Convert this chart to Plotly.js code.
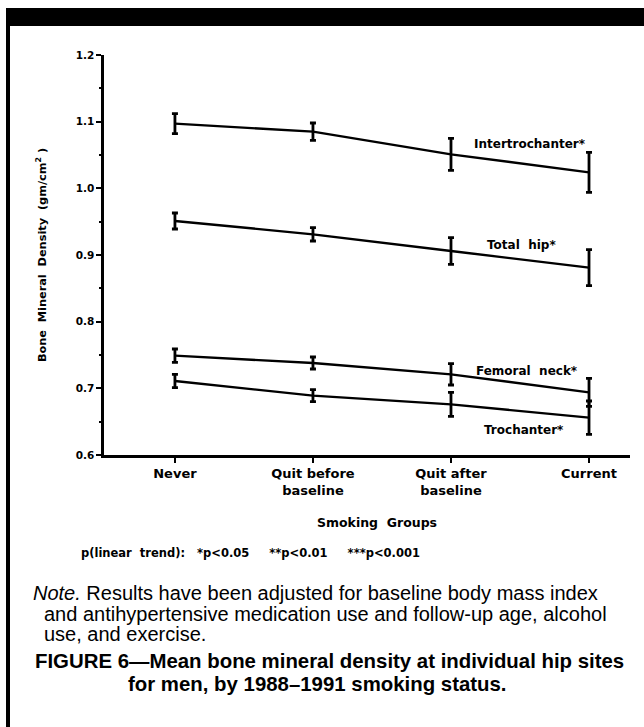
<!DOCTYPE html>
<html>
<head>
<meta charset="utf-8">
<script src="https://cdn.plot.ly/plotly-3.0.1.min.js"></script>
<style>
html,body{margin:0;padding:0;background:#fff;}
#chart{width:644px;height:727px;}
</style>
</head>
<body>
<div id="chart"></div>
<script>
// ---- data ----
var groups = ["Never", "Quit before<br>baseline", "Quit after<br>baseline", "Current"];
var intertrochanter = [1.097, 1.085, 1.051, 1.024];
var intertrochanterErr = [0.015, 0.013, 0.024, 0.030];
var totalHip = [0.951, 0.931, 0.906, 0.881];
var totalHipErr = [0.012, 0.010, 0.020, 0.027];
var femoralNeck = [0.749, 0.738, 0.721, 0.694];
var femoralNeckErr = [0.010, 0.009, 0.016, 0.021];
var trochanter = [0.711, 0.689, 0.676, 0.656];
var trochanterErr = [0.010, 0.009, 0.018, 0.025];
var seriesNames = ["Intertrochanter*", "Total  hip*", "Femoral  neck*", "Trochanter*"];
var yTicks = [0.6, 0.7, 0.8, 0.9, 1.0, 1.1, 1.2];

// ---- layout geometry (pixels) ----
var W = 644, H = 727;
var L = 104, R = 630, T = 55, B = 455;
function px(x){ return (x - L) / (R - L); }
function py(y){ return (B - y) / (B - T); }

var boldFont = {family: "DejaVu Sans, Liberation Sans, Arial, sans-serif", size: 12, color: "#000", weight: 700};
function bf(size){ return Object.assign({}, boldFont, {size: size}); }

function trace(vals, errs, name){
  return {
    type: "scatter", mode: "lines", name: name,
    x: [0,1,2,3], y: vals,
    line: {color: "#000", width: 2.4},
    error_y: {type: "data", array: errs, visible: true, color: "#000", thickness: 2.8, width: 3},
    hoverinfo: "y"
  };
}
var data = [
  trace(intertrochanter, intertrochanterErr, seriesNames[0]),
  trace(totalHip, totalHipErr, seriesNames[1]),
  trace(femoralNeck, femoralNeckErr, seriesNames[2]),
  trace(trochanter, trochanterErr, seriesNames[3])
];

var labelPos = [[2.575, 1.066], [2.51, 0.9155], [2.55, 0.7255], [2.53, 0.637]];
var annotations = seriesNames.map(function(n, i){
  return {text: n, x: labelPos[i][0], y: labelPos[i][1], xref: "x", yref: "y",
          showarrow: false, font: bf(12), xanchor: "center", yanchor: "middle"};
});

var noteFont = {family: "Liberation Sans, Arial, sans-serif", size: 20, color: "#000", weight: 400};
var capFont = {family: "Liberation Sans, Arial, sans-serif", size: 20.4, color: "#000", weight: 700};
function textAt(t, x, y, font, anchor){
  return {text: t, xref: "paper", yref: "paper", x: px(x), y: py(y), showarrow: false,
          xanchor: anchor || "left", yanchor: "middle", font: font};
}
annotations.push(textAt("Smoking  Groups", 377, 522, bf(12.5), "center"));
annotations.push(textAt("p(linear  trend):   *p<0.05     **p<0.01     ***p<0.001", 79, 553, bf(11.5), "left"));
annotations.push(textAt("<i>Note.</i> Results have been adjusted for baseline body mass index", 31, 593, noteFont, "left"));
annotations.push(textAt("and antihypertensive medication use and follow-up age, alcohol", 42, 613.5, noteFont, "left"));
annotations.push(textAt("use, and exercise.", 42, 634, noteFont, "left"));
annotations.push(textAt("FIGURE 6—Mean bone mineral density at individual hip sites", 329, 661, capFont, "center"));
annotations.push(textAt("for men, by 1988–1991 smoking status.", 317, 684, capFont, "center"));

var shapes = [
  {type: "rect", xref: "paper", yref: "paper", x0: px(6), x1: px(650), y0: py(26), y1: py(8),
   fillcolor: "#000", line: {width: 0}, layer: "above"},
  {type: "line", xref: "paper", yref: "paper", x0: px(8), x1: px(8), y0: py(8), y1: py(730),
   line: {color: "#000", width: 4}}
];

var layout = {
  width: W, height: H,
  margin: {l: L, r: W - R, t: T, b: H - B, pad: 0},
  paper_bgcolor: "#fff", plot_bgcolor: "#fff",
  showlegend: false,
  font: boldFont,
  xaxis: {
    type: "linear", range: [-0.514, 3.297],
    tickvals: [0,1,2,3], ticktext: groups,
    showgrid: false, zeroline: false,
    showline: true, linecolor: "#000", linewidth: 2.6,
    ticks: "outside", ticklen: 5, tickwidth: 2, tickcolor: "#000",
    tickfont: bf(13),
    automargin: false
  },
  yaxis: {
    range: [0.6, 1.2], tickvals: yTicks, tickformat: ".1f",
    showgrid: false, zeroline: false,
    showline: true, linecolor: "#000", linewidth: 2.6,
    ticks: "outside", ticklen: 5, tickwidth: 2, tickcolor: "#000",
    minor: {dtick: 0.05, tick0: 0.6, ticks: "outside", ticklen: 2, tickwidth: 2, tickcolor: "#000", showgrid: false},
    tickfont: bf(10.5),
    title: {text: "Bone  Mineral  Density  (gm/cm<sup>2</sup> )", font: bf(11.3), standoff: 27},
    automargin: false
  },
  annotations: annotations,
  shapes: shapes
};

Plotly.newPlot("chart", data, layout, {displayModeBar: false, staticPlot: true});
</script>
</body>
</html>
